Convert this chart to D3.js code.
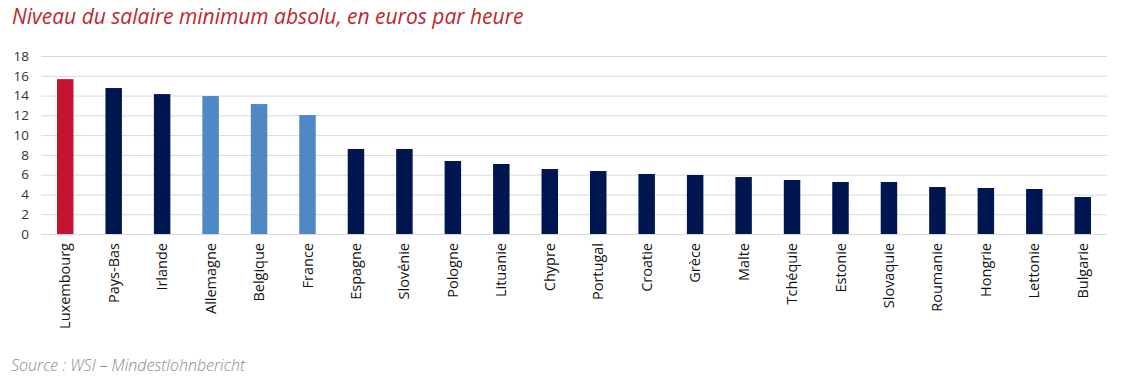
<!DOCTYPE html>
<html>
<head>
<meta charset="utf-8">
<script src="https://cdn.jsdelivr.net/npm/d3@7"></script>
<style>
  body { margin: 0; background: #fff; }
  svg { display: block; font-family: "Open Sans", sans-serif; }
</style>
</head>
<body>
<script>
var w = 1127;
var h = 388;

// Data
var countries = ["Luxembourg", "Pays-Bas", "Irlande", "Allemagne", "Belgique", "France",
  "Espagne", "Slovénie", "Pologne", "Lituanie", "Chypre", "Portugal", "Croatie", "Grèce",
  "Malte", "Tchéquie", "Estonie", "Slovaquie", "Roumanie", "Hongrie", "Lettonie", "Bulgarie"];
var wages = [15.66, 14.76, 14.15, 13.95, 13.14, 12.03, 8.6, 8.6, 7.38, 7.08, 6.57, 6.37,
  6.07, 5.97, 5.76, 5.46, 5.26, 5.26, 4.75, 4.65, 4.55, 3.74];
// group: 0 = Luxembourg, 1 = neighbours, 2 = others
var groups = [0, 2, 2, 1, 1, 1, 2, 2, 2, 2, 2, 2, 2, 2, 2, 2, 2, 2, 2, 2, 2, 2];
var yTicks = [0, 2, 4, 6, 8, 10, 12, 14, 16, 18];
var colors = ["#c41230", "#5088c6", "#001650"];

var svg = d3.select("body")
            .append("svg")
            .attr("width", w)
            .attr("height", h);

var plotLeft = 41, plotRight = 1107, plotTop = 56, plotBottom = 234;

var xScale = d3.scaleBand()
               .domain(countries)
               .range([plotLeft, plotRight])
               .paddingInner(0.66)
               .paddingOuter(0.33);

var yScale = d3.scaleLinear()
               .domain([0, 18])
               .range([plotBottom, plotTop]);

// title
svg.append("text")
   .attr("x", 12)
   .attr("y", 24)
   .attr("font-size", "21px")
   .attr("font-style", "italic")
   .attr("fill", "#c0272d")
   .text("Niveau du salaire minimum absolu, en euros par heure");

// gridlines + y labels
var yAxis = d3.axisLeft(yScale)
              .tickValues(yTicks)
              .tickSize(-(plotRight - plotLeft))
              .tickPadding(12);

var gy = svg.append("g")
   .attr("class", "axis")
   .attr("transform", "translate(" + plotLeft + ",0)")
   .call(yAxis);
gy.select(".domain").remove();
gy.selectAll("line").attr("stroke", "#d9d9d9").attr("stroke-width", 1);
gy.selectAll("text")
  .attr("font-size", "13.5px")
  .attr("fill", "#333")
  .attr("font-family", "Open Sans, sans-serif");

// bars
svg.selectAll("rect.bar")
   .data(countries)
   .enter()
   .append("rect")
   .attr("class", "bar")
   .attr("x", function(d) { return xScale(d); })
   .attr("y", function(d, i) { return yScale(wages[i]); })
   .attr("width", xScale.bandwidth())
   .attr("height", function(d, i) { return yScale(0) - yScale(wages[i]); })
   .attr("fill", function(d, i) { return colors[groups[i]]; });

// x labels
var xAxis = d3.axisBottom(xScale).tickSize(0).tickPadding(0);
var gx = svg.append("g")
   .attr("transform", "translate(0," + plotBottom + ")")
   .call(xAxis);
gx.select(".domain").remove();
gx.selectAll("text")
  .attr("font-size", "14.5px")
  .attr("fill", "#111")
  .attr("font-family", "Open Sans, sans-serif")
  .attr("text-anchor", "end")
  .attr("dy", "0.35em")
  .attr("transform", "translate(0,9) rotate(-90)")
  .attr("x", 0)
  .attr("y", 0);

// source
svg.append("text")
   .attr("x", 11)
   .attr("y", 371)
   .attr("font-size", "16px")
   .attr("font-style", "italic")
   .attr("font-weight", 300)
   .attr("fill", "#8a8a8a")
   .text("Source : WSI – Mindestlohnbericht");
</script>
</body>
</html>
